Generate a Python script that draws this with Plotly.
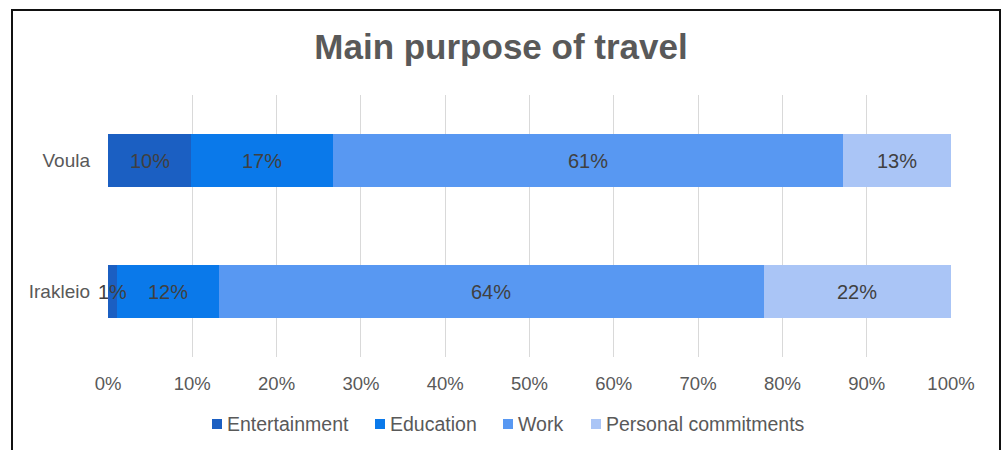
import plotly.graph_objects as go

# Survey shares (%) by main purpose of travel
locations = ["Voula", "Irakleio"]
purposes = ["Entertainment", "Education", "Work", "Personal commitments"]
entertainment = [10, 1]
education = [17, 12]
work = [61, 64]
personal = [13, 22]
series_values = [entertainment, education, work, personal]
tick_vals = [0, 10, 20, 30, 40, 50, 60, 70, 80, 90, 100]
tick_text = [f"{v}%" for v in tick_vals]

colors = ["#1b5fc2", "#0a79ea", "#5898f2", "#aac5f6"]

W, H = 1002, 450
ML, MR, MT, MB = 108, 51, 95, 93
FONT = "Liberation Sans, Arial, sans-serif"
PLOT_W = W - ML - MR
PLOT_H = H - MT - MB


def px_to_paper_x(px):
    return (px - ML) / PLOT_W


def px_to_paper_y(py):
    return (H - MB - py) / PLOT_H


fig = go.Figure()
for name, vals, col in zip(purposes, series_values, colors):
    fig.add_trace(go.Bar(
        y=locations,
        x=vals,
        name=name,
        orientation="h",
        marker=dict(color=col, line=dict(width=0)),
        hoverinfo="skip",
        showlegend=False,
    ))

# Value labels centred on each segment of the 100% stacked bars
annotations = []
for i, loc in enumerate(locations):
    total = sum(s[i] for s in series_values)
    cum = 0.0
    for s in series_values:
        share = s[i] / total * 100
        annotations.append(dict(
            x=cum + share / 2,
            y=loc,
            xref="x",
            yref="y",
            text=f"{s[i]}%",
            showarrow=False,
            xanchor="center",
            yanchor="middle",
            font=dict(family=FONT, size=20, color="#404040"),
        ))
        cum += share

# Legend row: small square swatch followed by the series name
legend_text_left = [227, 390, 518, 606]
legend_y = 424
shapes = []
for name, col, tx in zip(purposes, colors, legend_text_left):
    shapes.append(dict(
        type="rect",
        xref="paper",
        yref="paper",
        x0=px_to_paper_x(tx - 15),
        x1=px_to_paper_x(tx - 5),
        y0=px_to_paper_y(legend_y + 5),
        y1=px_to_paper_y(legend_y - 5),
        line=dict(width=0),
        fillcolor=col,
    ))
    annotations.append(dict(
        x=px_to_paper_x(tx),
        y=px_to_paper_y(legend_y),
        xref="paper",
        yref="paper",
        text=name,
        showarrow=False,
        xanchor="left",
        yanchor="middle",
        xshift=-2,
        font=dict(family=FONT, size=19.5, color="#595959"),
    ))

# Outer chart frame
shapes.append(dict(
    type="rect",
    xref="paper",
    yref="paper",
    x0=px_to_paper_x(12),
    x1=px_to_paper_x(1000),
    y0=px_to_paper_y(470),
    y1=px_to_paper_y(10),
    line=dict(color="#111111", width=2),
    fillcolor="rgba(0,0,0,0)",
    layer="above",
))

fig.update_layout(
    width=W,
    height=H,
    barmode="stack",
    barnorm="percent",
    bargap=0.6,
    margin=dict(l=ML, r=MR, t=MT, b=MB),
    paper_bgcolor="white",
    plot_bgcolor="white",
    font=dict(family=FONT, size=18, color="#595959"),
    showlegend=False,
    title=dict(
        text="<b>Main purpose of travel</b>",
        x=0.5,
        xanchor="center",
        y=1 - 47 / H,
        yanchor="middle",
        font=dict(family=FONT, size=35, color="#595959"),
    ),
    xaxis=dict(
        range=[0, 100],
        tickvals=tick_vals,
        ticktext=tick_text,
        showgrid=True,
        gridcolor="#d9d9d9",
        gridwidth=1,
        zeroline=False,
        showline=False,
        ticks="",
        ticklabelstandoff=13,
        tickfont=dict(family=FONT, size=18.5, color="#595959"),
        fixedrange=True,
    ),
    yaxis=dict(
        categoryorder="array",
        categoryarray=locations[::-1],
        showgrid=False,
        zeroline=False,
        showline=False,
        ticks="",
        ticklabelstandoff=17,
        tickfont=dict(family=FONT, size=19, color="#595959"),
        fixedrange=True,
    ),
    annotations=annotations,
    shapes=shapes,
)

fig.write_html("out.html", config={"displayModeBar": False})
